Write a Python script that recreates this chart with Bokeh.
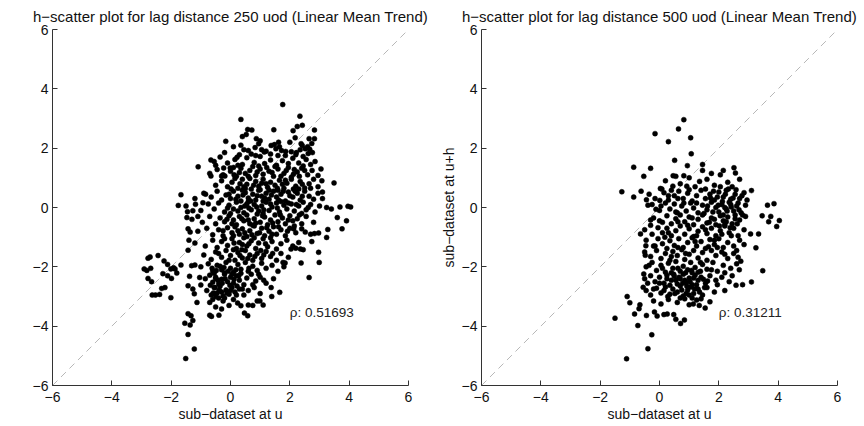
from bokeh.plotting import figure
from bokeh.layouts import row
from bokeh.models import Range1d, FixedTicker
from bokeh.core.properties import value
from bokeh.embed import file_html
from bokeh.resources import INLINE

# ---------------- data ----------------
titles = ["h\u2212scatter plot for lag distance 250 uod (Linear Mean Trend)",
          "h\u2212scatter plot for lag distance 500 uod (Linear Mean Trend)"]
xlabel = "sub\u2212dataset at u"
ylabel = "sub\u2212dataset at u+h"
rho_values = [0.51693, 0.31211]
tick_values = [-6, -4, -2, 0, 2, 4, 6]
tick_labels = ["\u22126", "\u22124", "\u22122", "0", "2", "4", "6"]
diag = [-6, 6]
rho_pos = [2.0, -3.55]

# lag 250: (u, u+h) pairs
h250_upper = [(1.76,3.47),(2.34,3.08),(0.35,2.97),(2.42,2.77),(2.25,2.73),(2.11,2.59),(2.83,2.61),(1.46,2.62),
              (0.58,2.63),(0.72,2.61),(0.53,2.46),(0.40,2.39),(0.87,2.32),(-0.16,2.23),(2.65,2.32),(2.83,2.32),
              (2.74,2.16),(2.42,2.09),(1.37,2.09),(1.48,2.12),(0.83,2.02),(1.86,1.89),(2.22,1.85),(2.52,1.98),
              (2.67,1.96),(2.76,1.85),(1.14,1.87),(1.53,1.98),(-0.66,1.60),(-1.09,1.37),(0.22,1.69),(-0.50,1.42),
              (-0.23,1.33),(-0.01,1.33),(-0.66,1.06),(-0.30,1.06),(-0.19,1.06)]
h250_left = [(-1.67,0.43),(-1.76,0.07),(-0.84,0.45),(-1.18,0.11),(-0.93,0.16),(-1.45,-0.14),(-1.27,-0.11),
             (-1.47,-0.34),(-1.10,-0.30),(-1.40,-1.10),(-1.36,-0.83),(-1.43,-0.72),(-2.71,-1.67),(-2.44,-1.62),
             (-2.78,-1.71),(-2.91,-2.07),(-2.69,-2.05),(-2.82,-2.12),(-2.78,-2.39),(-2.66,-2.50),(-2.64,-2.95),
             (-2.53,-2.95),(-2.39,-2.93),(-2.32,-2.73),(-2.21,-2.70),(-2.01,-3.04),(-2.24,-1.80),(-2.12,-1.92),
             (-2.28,-2.23),(-2.12,-2.30),(-2.01,-2.07),(-1.87,-2.07),(-1.81,-2.21),(-1.92,-2.03),(-1.99,-2.39),
             (-1.67,-1.94),(-1.43,-1.44),(-1.31,-1.96),(-1.20,-1.94),(-1.38,-2.32),(-1.43,-2.64),(-1.22,-2.91),
             (-1.13,-3.20),(-1.27,-2.75),(-1.00,-2.61),(-1.04,-2.36)]
h250_right = [(3.08,0.90),(3.49,0.83),(3.10,0.52),(3.24,0.00),(3.40,-0.05),(3.69,0.02),(3.96,0.04),(4.05,0.02),
              (3.60,-0.34),(3.91,-0.45),(3.76,-0.72),(3.28,-0.74),(3.24,-1.01),(2.97,-0.86),(2.74,-1.15),
              (2.97,-1.51),(2.99,-1.85),(2.65,-2.36),(2.38,-1.87),(2.36,-1.40),(2.20,-1.37),(2.04,-1.40),
              (2.45,-1.42),(2.52,-0.83),(2.70,-0.90),(2.83,-0.88),(2.13,-0.72),(1.77,-1.85),(1.84,-1.87),
              (1.66,-2.86),(1.39,-3.00),(1.37,-2.70),(1.10,-3.29),(0.99,-3.15)]
h250_lower = [(0.58,-3.65),(0.47,-3.56),(0.35,-3.31),(0.24,-3.22),(0.60,-3.29),(-0.39,-3.63),(-0.64,-3.67),
              (-0.70,-3.63),(-0.30,-3.42),(-1.33,-3.65),(-1.43,-3.58),(-1.27,-3.81),(-1.54,-3.90),(-1.36,-3.96),
              (-1.43,-4.28),(-1.22,-4.77),(-1.51,-5.09)]
h250_core = [
    (0.10,2.05),(0.45,1.95),(0.95,2.15),(1.20,1.90),(1.65,2.05),(2.00,2.20),(2.35,1.95),(2.60,2.05),(0.70,1.80),
    (1.85,1.75),(2.45,1.72),(-0.20,1.85),(0.30,1.78),
    (-0.55,1.55),(-0.35,1.70),(-0.10,1.50),(0.15,1.62),(0.40,1.45),(0.55,1.68),(0.80,1.52),(1.00,1.72),
    (1.15,1.48),(1.35,1.60),(1.55,1.42),(1.75,1.58),(1.95,1.48),(2.10,1.66),(2.30,1.50),(2.55,1.62),
    (2.70,1.45),(2.85,1.55),(0.95,1.40),(1.60,1.75),(2.20,1.78),(0.25,1.42),(2.45,1.40),
    (-0.70,1.15),(-0.45,1.28),(-0.25,1.10),(0.00,1.22),(0.20,1.05),(0.35,1.32),(0.50,1.15),(0.65,1.25),
    (0.85,1.08),(1.00,1.30),(1.10,1.12),(1.30,1.22),(1.45,1.05),(1.60,1.30),(1.80,1.15),(1.95,1.35),
    (2.05,1.02),(2.25,1.20),(2.40,1.32),(2.60,1.10),(2.75,1.25),(2.95,1.08),(3.05,1.30),(0.75,1.38),
    (1.50,1.38),(2.15,1.28),(0.10,1.35),
    (-0.50,0.75),(-0.30,0.90),(-0.10,0.70),(0.05,0.85),(0.25,0.65),(0.40,0.95),(0.55,0.78),(0.70,0.62),
    (0.85,0.88),(0.95,0.72),(1.10,0.95),(1.25,0.68),(1.35,0.85),(1.50,0.75),(1.65,0.92),(1.80,0.65),
    (1.90,0.82),(2.05,0.95),(2.20,0.72),(2.35,0.88),(2.50,0.66),(2.65,0.80),(2.80,0.95),(2.95,0.70),
    (0.15,0.98),(0.65,0.98),(1.20,0.80),(1.75,0.78),(2.30,0.62),(0.45,0.70),(1.00,0.60),
    (-1.20,0.30),(-0.90,0.48),(-0.65,0.35),(-0.45,0.55),(-0.30,0.25),(-0.15,0.42),(0.00,0.30),(0.10,0.55),
    (0.25,0.38),(0.35,0.22),(0.50,0.50),(0.60,0.32),(0.75,0.45),(0.85,0.25),(0.95,0.58),(1.05,0.38),
    (1.20,0.48),(1.30,0.28),(1.45,0.55),(1.55,0.35),(1.70,0.45),(1.85,0.22),(1.95,0.52),(2.10,0.35),
    (2.25,0.48),(2.35,0.25),(2.50,0.55),(2.65,0.38),(2.80,0.28),(2.95,0.48),(3.10,0.30),(0.40,0.58),
    (1.10,0.22),(1.60,0.58),(2.00,0.40),
    (-1.50,0.05),(-1.00,-0.10),(-0.75,0.12),(-0.55,-0.05),(-0.40,0.15),(-0.20,-0.15),(-0.05,0.08),
    (0.10,-0.05),(0.20,0.18),(0.35,0.00),(0.45,-0.18),(0.55,0.12),(0.70,-0.08),(0.80,0.10),(0.95,-0.12),
    (1.05,0.05),(1.20,0.18),(1.30,-0.10),(1.40,0.02),(1.55,0.15),(1.65,-0.15),(1.80,0.08),(1.90,-0.05),
    (2.05,0.12),(2.15,-0.12),(2.30,0.05),(2.45,0.18),(2.55,-0.08),(2.70,0.10),(2.85,-0.15),(3.00,0.05),
    (0.00,-0.20),(0.60,0.20),(1.10,-0.20),(1.70,0.20),(2.40,-0.20),
    (-1.30,-0.40),(-0.95,-0.50),(-0.70,-0.30),(-0.50,-0.55),(-0.35,-0.35),(-0.20,-0.48),(-0.05,-0.28),
    (0.10,-0.42),(0.20,-0.58),(0.30,-0.30),(0.45,-0.45),(0.55,-0.25),(0.65,-0.55),(0.80,-0.38),(0.90,-0.22),
    (1.00,-0.50),(1.15,-0.32),(1.25,-0.58),(1.35,-0.42),(1.50,-0.25),(1.60,-0.48),(1.75,-0.35),(1.85,-0.55),
    (2.00,-0.28),(2.10,-0.45),(2.25,-0.38),(2.40,-0.55),(2.55,-0.30),(2.80,-0.50),(0.75,-0.60),
    (-1.10,-0.80),(-0.80,-0.70),(-0.60,-0.92),(-0.40,-0.75),(-0.25,-0.95),(-0.10,-0.68),(0.05,-0.85),
    (0.15,-0.65),(0.30,-0.90),(0.40,-0.72),(0.55,-0.98),(0.65,-0.78),(0.80,-0.62),(0.90,-0.88),(1.05,-0.70),
    (1.15,-0.95),(1.30,-0.80),(1.45,-0.65),(1.55,-0.90),(1.70,-0.75),(1.85,-0.95),(2.00,-0.70),(2.20,-0.85),
    (2.40,-0.72),(0.25,-0.78),
    (-1.20,-1.20),(-0.85,-1.30),(-0.60,-1.10),(-0.45,-1.35),(-0.30,-1.15),(-0.10,-1.28),(0.05,-1.05),
    (0.20,-1.38),(0.30,-1.18),(0.45,-1.02),(0.55,-1.30),(0.70,-1.12),(0.85,-1.38),(0.95,-1.20),(1.10,-1.05),
    (1.25,-1.32),(1.40,-1.15),(1.55,-1.40),(1.70,-1.22),(1.90,-1.10),(2.10,-1.30),(2.30,-1.18),(0.40,-1.25),
    (-0.90,-1.60),(-0.65,-1.75),(-0.50,-1.50),(-0.30,-1.68),(-0.15,-1.45),(0.00,-1.62),(0.15,-1.78),
    (0.25,-1.52),(0.40,-1.70),(0.50,-1.45),(0.65,-1.60),(0.75,-1.78),(0.90,-1.55),(1.05,-1.72),(1.20,-1.48),
    (1.35,-1.65),(1.55,-1.78),(1.70,-1.55),(1.95,-1.68),(0.10,-1.42),
    (-1.00,-2.00),(-0.75,-1.90),(-0.60,-2.15),(-0.45,-1.95),(-0.30,-2.10),(-0.15,-1.85),(0.00,-2.05),
    (0.10,-2.18),(0.25,-1.92),(0.35,-2.08),(0.50,-1.85),(0.60,-2.15),(0.75,-1.98),(0.90,-2.12),(1.05,-1.88),
    (1.20,-2.05),(1.40,-1.95),(1.60,-2.15),(1.80,-2.00),(-0.20,-2.20),
    (-0.85,-2.40),(-0.70,-2.28),(-0.60,-2.52),(-0.50,-2.35),(-0.40,-2.58),(-0.30,-2.42),(-0.20,-2.25),
    (-0.10,-2.50),(0.00,-2.35),(0.10,-2.55),(0.20,-2.30),(0.30,-2.45),(0.45,-2.60),(0.55,-2.38),(0.70,-2.25),
    (0.85,-2.48),(1.00,-2.35),(1.20,-2.55),(1.45,-2.40),(-0.55,-2.22),(0.35,-2.22),
    (-0.80,-2.80),(-0.65,-2.95),(-0.55,-2.70),(-0.45,-2.88),(-0.35,-2.65),(-0.25,-2.98),(-0.15,-2.78),
    (-0.05,-2.92),(0.05,-2.70),(0.15,-2.85),(0.30,-2.75),(0.45,-2.95),(0.60,-2.80),(0.80,-2.70),(1.00,-2.90),
    (-0.40,-3.05),
    (-0.70,-3.20),(-0.50,-3.35),(-0.25,-3.15),(-0.05,-3.30),(0.10,-3.10),(0.75,-3.30),(0.90,-3.15),(-0.60,-3.10)]
h250_dense = [
    (-0.62,-2.05),(-0.48,-2.12),(-0.35,-1.98),(-0.22,-2.02),(-0.08,-2.15),(0.05,-2.25),(0.18,-2.10),(0.28,-2.30),
    (-0.68,-2.62),(-0.52,-2.70),(-0.42,-2.45),(-0.28,-2.55),(-0.18,-2.40),(-0.02,-2.62),(0.12,-2.42),(0.22,-2.65),
    (-0.58,-2.88),(-0.38,-2.78),(-0.30,-2.85),(-0.12,-2.88),(0.00,-2.80),(0.20,-2.95),(-0.50,-3.00),(-0.20,-3.05),
    (0.12,1.10),(0.30,1.18),(0.60,1.05),(0.90,1.20),(1.22,1.35),(1.40,1.18),(1.70,1.05),(1.88,1.25),(2.12,1.12),
    (2.32,1.05),(2.50,1.25),
    (0.02,0.62),(0.32,0.80),(0.50,0.64),(0.78,0.75),(1.05,0.82),(1.30,0.58),(1.58,0.65),(1.85,0.92),(2.12,0.62),
    (2.42,0.78),(2.70,0.65),
    (-0.05,0.45),(0.18,0.28),(0.42,0.42),(0.68,0.22),(0.90,0.40),(1.15,0.32),(1.38,0.42),(1.62,0.25),(1.78,0.55),
    (2.18,0.55),(2.42,0.38),
    (-0.10,-0.02),(0.25,-0.12),(0.48,0.05),(0.62,-0.02),(0.88,0.02),(1.12,-0.08),(1.35,0.12),(1.58,-0.02),
    (1.95,0.15),(2.22,0.10),(2.62,0.00),
    (-0.12,-0.40),(0.05,-0.55),(0.38,-0.38),(0.60,-0.42),(0.85,-0.52),(1.08,-0.28),(1.42,-0.52),(1.68,-0.25),
    (1.95,-0.42),(2.32,-0.25),
    (-0.25,-0.78),(0.10,-0.95),(0.48,-0.85),(0.72,-0.92),(0.98,-0.85),(1.22,-0.68),(1.40,-0.90),(1.62,-0.65),
    (1.92,-0.80),(2.15,-0.62),
    (-0.20,-1.05),(0.12,-1.20),(0.38,-1.42),(0.62,-1.22),(0.80,-1.02),(1.02,-1.45),(1.18,-1.22),(1.35,-1.02),
    (-0.40,-1.55),(-0.05,-1.78),(0.32,-1.62),(0.58,-1.72),(0.82,-1.65),(1.12,-1.60),(1.42,-1.55),
    (-0.50,-2.40),(0.62,-2.05),(0.95,-2.25),(1.12,-2.45),(0.75,-2.60),(0.40,-2.75),
    (0.60,1.92),(0.85,1.75),(1.05,1.95),(1.35,1.80),(1.72,1.92),(2.05,1.88),(2.38,2.15),(2.62,1.82),(0.35,2.10),
    (1.00,2.25),(1.62,2.20),(2.18,2.35)]

# lag 500: (u, u+h) pairs
h500_upper = [(0.82,2.96),(0.64,2.65),(-0.15,2.49),(1.05,2.35),(0.30,2.22),(1.07,1.81),(0.51,1.59),(0.94,1.41),
              (1.45,1.45),(1.45,1.25),(-0.87,1.36),(-0.30,1.32),(-0.53,1.05),(0.46,1.07),(0.55,1.05),(0.82,1.07),
              (2.51,1.34),(2.56,1.16),(-1.27,0.53),(-0.62,0.55),(-0.87,0.35),(-0.44,0.26),(-0.39,0.08),
              (0.03,0.64),(0.08,0.62),(-0.12,-0.06),(0.01,0.24),(-0.30,-0.42),(-0.64,-0.89)]
h500_right = [(3.10,0.57),(3.64,0.08),(3.86,0.13),(3.46,-0.28),(3.75,-0.30),(4.04,-0.44),(3.68,-0.48),
              (3.95,-0.64),(3.48,-2.13),(3.10,-2.51),(3.34,-0.89),(3.25,-1.36),(3.07,-0.89),(2.80,-2.60),
              (2.58,-2.62),(2.20,-2.80),(2.69,-2.10),(2.74,-1.81)]
h500_lower = [(1.54,-3.39),(1.34,-3.30),(1.14,-3.25),(0.84,-3.79),(0.71,-3.91),(0.55,-3.77),(0.48,-3.61),
              (0.26,-3.59),(0.15,-3.61),(-0.08,-3.66),(-0.17,-3.52),(-0.44,-3.64),(-0.73,-3.98),(-0.84,-3.59),
              (-0.69,-3.41),(-0.66,-3.28),(-1.00,-3.21),(-1.09,-3.00),(-1.50,-3.73),(-0.26,-4.29),(-0.39,-4.76),
              (-1.11,-5.10),(-0.53,-2.24),(-0.55,-2.69),(-0.46,-1.29),(-0.48,-1.61)]
h500_core = [
    (0.20,0.90),(0.70,0.80),(1.00,1.00),(1.20,0.70),(1.60,0.95),(1.85,0.75),(2.05,1.10),(2.30,0.85),
    (2.45,0.70),(2.15,1.25),(1.35,0.88),(0.45,0.72),(2.70,0.95),(1.75,1.15),
    (-0.35,0.45),(-0.15,0.30),(0.15,0.50),(0.30,0.25),(0.50,0.40),(0.65,0.55),(0.80,0.30),(0.95,0.48),
    (1.10,0.22),(1.25,0.40),(1.40,0.58),(1.55,0.30),(1.70,0.45),(1.85,0.25),(2.00,0.52),(2.15,0.35),
    (2.25,0.58),(2.40,0.28),(2.55,0.45),(2.70,0.30),(2.85,0.50),(2.95,0.25),(1.00,0.60),(0.40,0.58),
    (-0.25,0.10),(0.00,-0.10),(0.20,0.15),(0.35,-0.05),(0.50,0.12),(0.60,-0.18),(0.75,0.05),(0.90,-0.12),
    (1.05,0.15),(1.15,-0.02),(1.30,-0.18),(1.45,0.08),(1.60,-0.08),(1.75,0.18),(1.90,0.00),(2.00,-0.15),
    (2.10,0.10),(2.25,-0.05),(2.35,0.18),(2.50,-0.12),(2.60,0.05),(2.75,-0.18),(2.90,0.08),(2.20,0.00),
    (1.50,-0.20),
    (-0.20,-0.35),(0.10,-0.50),(0.25,-0.28),(0.40,-0.55),(0.55,-0.38),(0.70,-0.25),(0.85,-0.48),(1.00,-0.32),
    (1.15,-0.58),(1.30,-0.40),(1.45,-0.25),(1.60,-0.52),(1.75,-0.35),(1.90,-0.58),(2.05,-0.28),(2.15,-0.45),
    (2.30,-0.32),(2.45,-0.55),(2.55,-0.25),(2.70,-0.42),(2.90,-0.30),(2.20,-0.58),
    (-0.50,-0.75),(-0.25,-0.90),(-0.05,-0.68),(0.10,-0.85),(0.25,-0.70),(0.40,-0.95),(0.55,-0.78),
    (0.70,-0.62),(0.85,-0.90),(1.00,-0.72),(1.15,-0.98),(1.30,-0.80),(1.45,-0.65),(1.60,-0.88),(1.75,-0.70),
    (1.90,-0.95),(2.05,-0.78),(2.20,-0.62),(2.35,-0.85),(2.50,-0.70),(2.65,-0.95),(2.85,-0.75),
    (-0.45,-1.10),(-0.20,-1.30),(-0.05,-1.05),(0.10,-1.22),(0.25,-1.38),(0.35,-1.12),(0.50,-1.28),
    (0.65,-1.05),(0.80,-1.35),(0.95,-1.18),(1.10,-1.02),(1.25,-1.30),(1.40,-1.15),(1.55,-1.38),(1.70,-1.08),
    (1.85,-1.25),(2.00,-1.05),(2.15,-1.35),(2.30,-1.18),(2.50,-1.30),(2.70,-1.10),(2.85,-1.25),
    (-0.50,-1.50),(-0.30,-1.65),(-0.10,-1.45),(0.05,-1.72),(0.20,-1.55),(0.35,-1.78),(0.45,-1.48),
    (0.60,-1.62),(0.75,-1.42),(0.85,-1.75),(1.00,-1.58),(1.15,-1.45),(1.30,-1.70),(1.45,-1.52),(1.60,-1.78),
    (1.75,-1.45),(1.90,-1.62),(2.10,-1.50),(2.30,-1.72),(2.50,-1.55),(2.65,-1.68),
    (-0.45,-2.00),(-0.25,-1.85),(-0.10,-2.12),(0.05,-1.95),(0.20,-2.18),(0.30,-1.88),(0.45,-2.05),
    (0.55,-1.82),(0.70,-2.15),(0.80,-1.98),(0.95,-2.10),(1.05,-1.85),(1.20,-2.02),(1.30,-2.18),(1.45,-1.92),
    (1.60,-2.08),(1.80,-1.85),(1.95,-2.15),(2.15,-1.95),(2.40,-2.05),(2.60,-1.90),(0.40,-2.20),(1.10,-2.20),
    (-0.50,-2.40),(-0.30,-2.30),(-0.15,-2.50),(0.00,-2.35),(0.15,-2.55),(0.25,-2.28),(0.40,-2.45),
    (0.50,-2.32),(0.60,-2.58),(0.70,-2.40),(0.80,-2.25),(0.90,-2.52),(1.00,-2.38),(1.10,-2.60),(1.20,-2.28),
    (1.30,-2.45),(1.40,-2.35),(1.55,-2.55),(1.70,-2.30),(1.90,-2.45),(2.10,-2.35),(2.35,-2.50),(0.85,-2.45),
    (0.55,-2.45),
    (-0.45,-2.80),(-0.30,-2.95),(-0.10,-2.72),(0.05,-2.88),(0.20,-2.68),(0.35,-2.92),(0.45,-2.75),
    (0.60,-2.85),(0.70,-2.65),(0.80,-2.98),(0.95,-2.78),(1.05,-2.68),(1.15,-2.90),(1.30,-2.75),(1.45,-2.95),
    (1.60,-2.70),(1.85,-2.85),(0.90,-2.90),
    (-0.20,-3.15),(0.05,-3.25),(0.30,-3.10),(0.60,-3.20),(0.85,-3.08),(1.00,-3.28),(1.25,-3.12),(1.70,-3.18)]
h500_dense = [
    (0.10,-2.05),(0.25,-2.40),(0.35,-2.62),(0.48,-2.25),(0.52,-2.90),(0.62,-2.05),(0.66,-2.35),(0.75,-2.78),
    (0.78,-2.55),(0.88,-2.20),(0.92,-2.65),(1.00,-2.95),(1.03,-2.50),(1.08,-2.12),(1.15,-2.38),(1.18,-2.75),
    (1.25,-2.60),(1.35,-2.85),(1.38,-2.15),(1.48,-2.42),(1.52,-2.70),(1.62,-2.48),
    (0.15,-2.80),(0.28,-3.00),(0.70,-3.05),(1.10,-3.05),(1.40,-3.08),
    (1.55,0.62),(1.72,0.32),(1.82,0.55),(1.95,0.35),(2.05,0.70),(2.12,0.20),(2.22,0.45),(2.32,0.62),(2.40,0.10),
    (2.48,0.32),(2.58,0.60),(2.65,0.15),(2.78,0.40),
    (1.62,0.05),(1.80,-0.15),(1.98,0.08),(2.15,-0.25),(2.28,-0.12),(2.42,0.02),(2.55,-0.38),(2.68,-0.08),
    (2.80,-0.25),
    (1.68,-0.50),(1.85,-0.40),(2.02,-0.62),(2.25,-0.48),(2.38,-0.68),(2.62,-0.55),
    (0.05,0.05),(0.30,0.40),(0.55,-0.15),(0.82,0.15),(1.10,-0.35),(1.25,0.15),(0.92,0.72),(0.62,0.30),
    (-0.35,-1.95),(-0.15,-1.30),(0.18,-1.00),(0.40,-1.65),(0.62,-1.35),(0.88,-1.55),(1.20,-1.15),(1.38,-1.85),
    (1.65,-1.32),(1.95,-1.35),(2.20,-1.58),(2.42,-0.95),(2.60,-1.45),
    (-0.30,-0.60),(0.00,-0.45),(0.30,-0.85),(0.62,-0.48),(0.95,-0.60),(1.25,-0.95),(1.55,-0.75),(1.85,-1.10),
    (2.10,-0.90),
    (-0.40,-2.55),(-0.20,-2.75),(0.00,-2.55),(1.75,-2.10),(1.95,-2.60),(2.20,-2.20),(2.45,-2.30)]

panels = [
    dict(title=titles[0], pts=h250_upper + h250_left + h250_right + h250_lower + h250_core + h250_dense,
         rho=rho_values[0], ylabel=None, left=52, right=24),
    dict(title=titles[1], pts=h500_upper + h500_right + h500_lower + h500_core + h500_dense,
         rho=rho_values[1], ylabel=ylabel, left=49, right=27),
]

FONT = "Liberation Sans"


def make_panel(cfg):
    p = figure(frame_width=356, frame_height=356, output_backend="svg", toolbar_location=None,
               x_range=Range1d(-6, 6), y_range=Range1d(-6, 6),
               min_border_left=cfg["left"], min_border_right=cfg["right"],
               min_border_top=29, min_border_bottom=41)
    p.outline_line_color = None
    p.grid.visible = False
    p.background_fill_color = "white"
    p.border_fill_color = "white"

    p.title.text = cfg["title"]
    p.title.align = "center"
    p.title.text_font = FONT
    p.title.text_font_size = "15px"
    p.title.text_font_style = "normal"
    p.title.text_color = "#111111"
    p.title.standoff = 10

    for ax in (p.xaxis[0], p.yaxis[0]):
        ax.ticker = FixedTicker(ticks=tick_values)
        ax.major_label_overrides = dict(zip(tick_values, tick_labels))
        ax.major_tick_in = 5
        ax.major_tick_out = 0
        ax.minor_tick_line_color = None
        ax.axis_line_color = "#333333"
        ax.major_tick_line_color = "#333333"
        ax.major_label_text_font = FONT
        ax.major_label_text_font_size = "14px"
        ax.major_label_text_color = "#111111"
        ax.axis_label_text_font = FONT
        ax.axis_label_text_font_size = "14px"
        ax.axis_label_text_font_style = "normal"
        ax.axis_label_text_color = "#111111"

    p.xaxis[0].axis_label = xlabel
    p.xaxis[0].major_label_standoff = 6
    p.xaxis[0].axis_label_standoff = 1
    p.yaxis[0].major_label_standoff = 4
    if cfg["ylabel"]:
        p.yaxis[0].axis_label = cfg["ylabel"]
        p.yaxis[0].axis_label_standoff = 2

    p.line(diag, diag, line_color="#b8b8b8", line_width=1, line_dash="7 5")

    xs = [a for a, b in cfg["pts"]]
    ys = [b for a, b in cfg["pts"]]
    p.scatter(xs, ys, size=5, fill_color="black", line_color="black", line_width=0.5)

    p.text(x=[rho_pos[0]], y=[rho_pos[1]], text=["\u03c1: %.5f" % cfg["rho"]],
           text_font=value(FONT), text_font_size="13.5px", text_color="#222222",
           text_baseline="middle", text_align="left")
    return p


layout = row(*[make_panel(c) for c in panels])
open("out.html", "w").write(file_html(layout, INLINE))
